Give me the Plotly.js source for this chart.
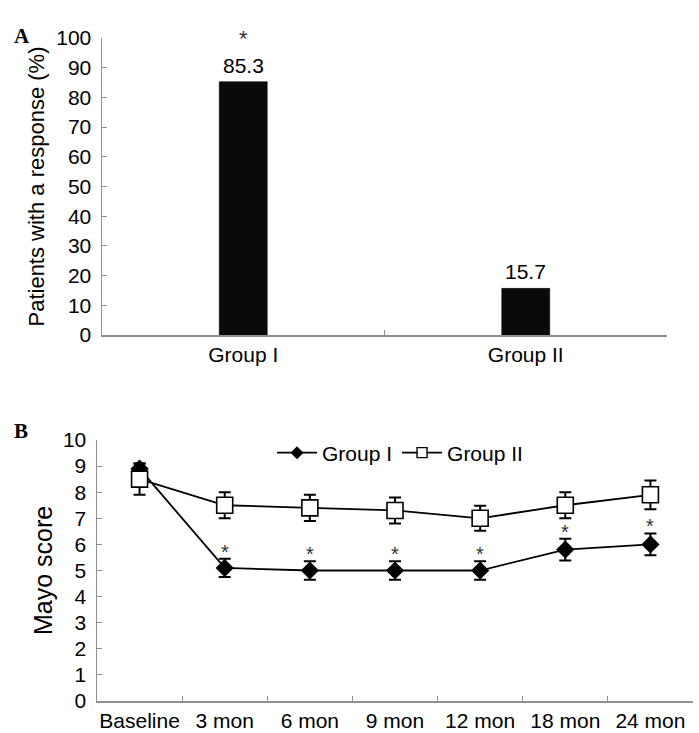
<!DOCTYPE html>
<html>
<head>
<meta charset="utf-8">
<script src="https://cdn.plot.ly/plotly-3.0.1.min.js"></script>
<style>html,body{margin:0;padding:0;background:#fff;}#chart{width:699px;height:733px;}</style>
</head>
<body>
<div id="chart"></div>
<script>
// Panel A data
var groupsA = ['Group I', 'Group II'];
var responseRate = [85.3, 15.7];
var sigA = ['*', ''];

// Panel B data
var timepoints = ['Baseline', '3 mon', '6 mon', '9 mon', '12 mon', '18 mon', '24 mon'];
var mayoGroup1 = [8.9, 5.1, 5.0, 5.0, 5.0, 5.8, 6.0];
var errGroup1 = [0.2, 0.35, 0.35, 0.35, 0.35, 0.42, 0.42];
var mayoGroup2 = [8.5, 7.5, 7.4, 7.3, 7.0, 7.5, 7.9];
var errGroup2 = [0.6, 0.5, 0.5, 0.5, 0.48, 0.5, 0.55];
var sigB = ['', '*', '*', '*', '*', '*', '*'];
var seriesNames = ['Group I', 'Group II'];

var W = 699, H = 733;
var axisGrey = '#909090';
var fontFam = 'Liberation Sans, Arial, sans-serif';

var g1Marker = {symbol: 'diamond', size: 14, color: '#000'};
var g2Marker = {symbol: 'square', size: 16, color: '#fff', line: {color: '#000', width: 1.6}};

var traces = [
  {
    type: 'bar', x: groupsA, y: responseRate, xaxis: 'x', yaxis: 'y',
    marker: {color: '#0a0a0a', line: {color: '#000', width: 0.5}},
    showlegend: false, hoverinfo: 'x+y'
  },
  {
    type: 'scatter', mode: 'lines+markers', name: seriesNames[0], showlegend: false,
    x: timepoints, y: mayoGroup1, xaxis: 'x2', yaxis: 'y2',
    line: {color: '#000', width: 1.8}, marker: g1Marker,
    error_y: {type: 'data', array: errGroup1, visible: true, color: '#000', thickness: 2, width: 6}
  },
  {
    type: 'scatter', mode: 'lines+markers', name: seriesNames[1], showlegend: false,
    x: timepoints, y: mayoGroup2, xaxis: 'x2', yaxis: 'y2',
    line: {color: '#000', width: 1.8}, marker: g2Marker,
    error_y: {type: 'data', array: errGroup2, visible: true, color: '#000', thickness: 2, width: 6}
  },
  // legend-only entries (smaller symbols as in the reference legend)
  {
    type: 'scatter', mode: 'lines+markers', name: seriesNames[0], x: [null], y: [null],
    xaxis: 'x2', yaxis: 'y2', line: {color: '#000', width: 1.8},
    marker: {symbol: 'diamond', size: 10, color: '#000'}
  },
  {
    type: 'scatter', mode: 'lines+markers', name: seriesNames[1], x: [null], y: [null],
    xaxis: 'x2', yaxis: 'y2', line: {color: '#000', width: 1.8},
    marker: {symbol: 'square', size: 10, color: '#fff', line: {color: '#000', width: 1.4}}
  }
];

var annotations = [];
groupsA.forEach(function (g, i) {
  annotations.push({
    xref: 'x', yref: 'y', x: g, y: responseRate[i], text: String(responseRate[i]),
    showarrow: false, yanchor: 'bottom', yshift: 3,
    font: {family: fontFam, size: 21, color: '#000'}
  });
  if (sigA[i]) {
    annotations.push({
      xref: 'x', yref: 'y', x: g, y: responseRate[i], text: sigA[i],
      showarrow: false, yanchor: 'bottom', yshift: 29,
      font: {family: fontFam, size: 22, color: '#333'}
    });
  }
});
timepoints.forEach(function (t, i) {
  if (sigB[i]) {
    annotations.push({
      xref: 'x2', yref: 'y2', x: t, y: mayoGroup1[i] + errGroup1[i], text: sigB[i],
      showarrow: false, yanchor: 'bottom', yshift: -6,
      font: {family: fontFam, size: 20, color: '#333'}
    });
  }
});
annotations.push({
  xref: 'paper', yref: 'paper', x: 12 / W, y: 1 - 22 / H, xanchor: 'left', yanchor: 'top',
  text: '<b>A</b>', showarrow: false, font: {family: 'Liberation Serif, Times New Roman, serif', size: 21, color: '#000'}
});
annotations.push({
  xref: 'paper', yref: 'paper', x: 12 / W, y: 1 - 417 / H, xanchor: 'left', yanchor: 'top',
  text: '<b>B</b>', showarrow: false, font: {family: 'Liberation Serif, Times New Roman, serif', size: 21, color: '#000'}
});

var yTickFont = {family: fontFam, size: 21, color: '#000'};
var xTickFont = {family: fontFam, size: 21, color: '#000'};

var layout = {
  width: W, height: H,
  margin: {l: 0, r: 0, t: 0, b: 0, pad: 0},
  paper_bgcolor: '#fff', plot_bgcolor: '#fff',
  font: {family: fontFam, color: '#000'},
  bargap: 0.83,
  showlegend: true,
  legend: {
    orientation: 'h', x: 272 / W, y: 1 - 453 / H, xanchor: 'left', yanchor: 'middle',
    font: {family: fontFam, size: 21, color: '#000'}, bgcolor: 'rgba(0,0,0,0)',
    itemwidth: 40, tracegroupgap: 0
  },
  xaxis: {
    domain: [102 / W, 667 / W], anchor: 'y', type: 'category',
    range: [-0.5, 1.5], showline: true, linecolor: axisGrey, linewidth: 1.5,
    ticks: 'inside', tickson: 'boundaries', ticklen: 5, tickcolor: axisGrey,
    showgrid: false, zeroline: false, tickfont: xTickFont, tickangle: 0, automargin: false
  },
  yaxis: {
    domain: [1 - 335 / H, 1 - 38 / H], anchor: 'x',
    range: [0, 100], dtick: 10, showline: true, linecolor: axisGrey, linewidth: 1.5,
    ticks: 'inside', ticklen: 5, tickcolor: axisGrey, showgrid: false, zeroline: false,
    tickfont: yTickFont, ticklabelstandoff: 5, automargin: false,
    title: {text: 'Patients with a response (%)', font: {family: fontFam, size: 22, color: '#000'}, standoff: 5}
  },
  xaxis2: {
    domain: [97 / W, 693 / W], anchor: 'y2', type: 'category',
    range: [-0.5, 6.5], showline: true, linecolor: axisGrey, linewidth: 1.5,
    ticks: 'inside', tickson: 'boundaries', ticklen: 5, tickcolor: axisGrey,
    showgrid: false, zeroline: false, tickfont: xTickFont, tickangle: 0, automargin: false
  },
  yaxis2: {
    domain: [1 - 701 / H, 1 - 440 / H], anchor: 'x2',
    range: [0, 10], dtick: 1, showline: true, linecolor: axisGrey, linewidth: 1.5,
    ticks: 'inside', ticklen: 5, tickcolor: axisGrey, showgrid: false, zeroline: false,
    tickfont: yTickFont, ticklabelstandoff: 5, automargin: false,
    title: {text: 'Mayo score', font: {family: fontFam, size: 25, color: '#000'}, standoff: 3}
  },
  annotations: annotations
};

Plotly.newPlot('chart', traces, layout, {displayModeBar: false, staticPlot: true});
</script>
</body>
</html>
